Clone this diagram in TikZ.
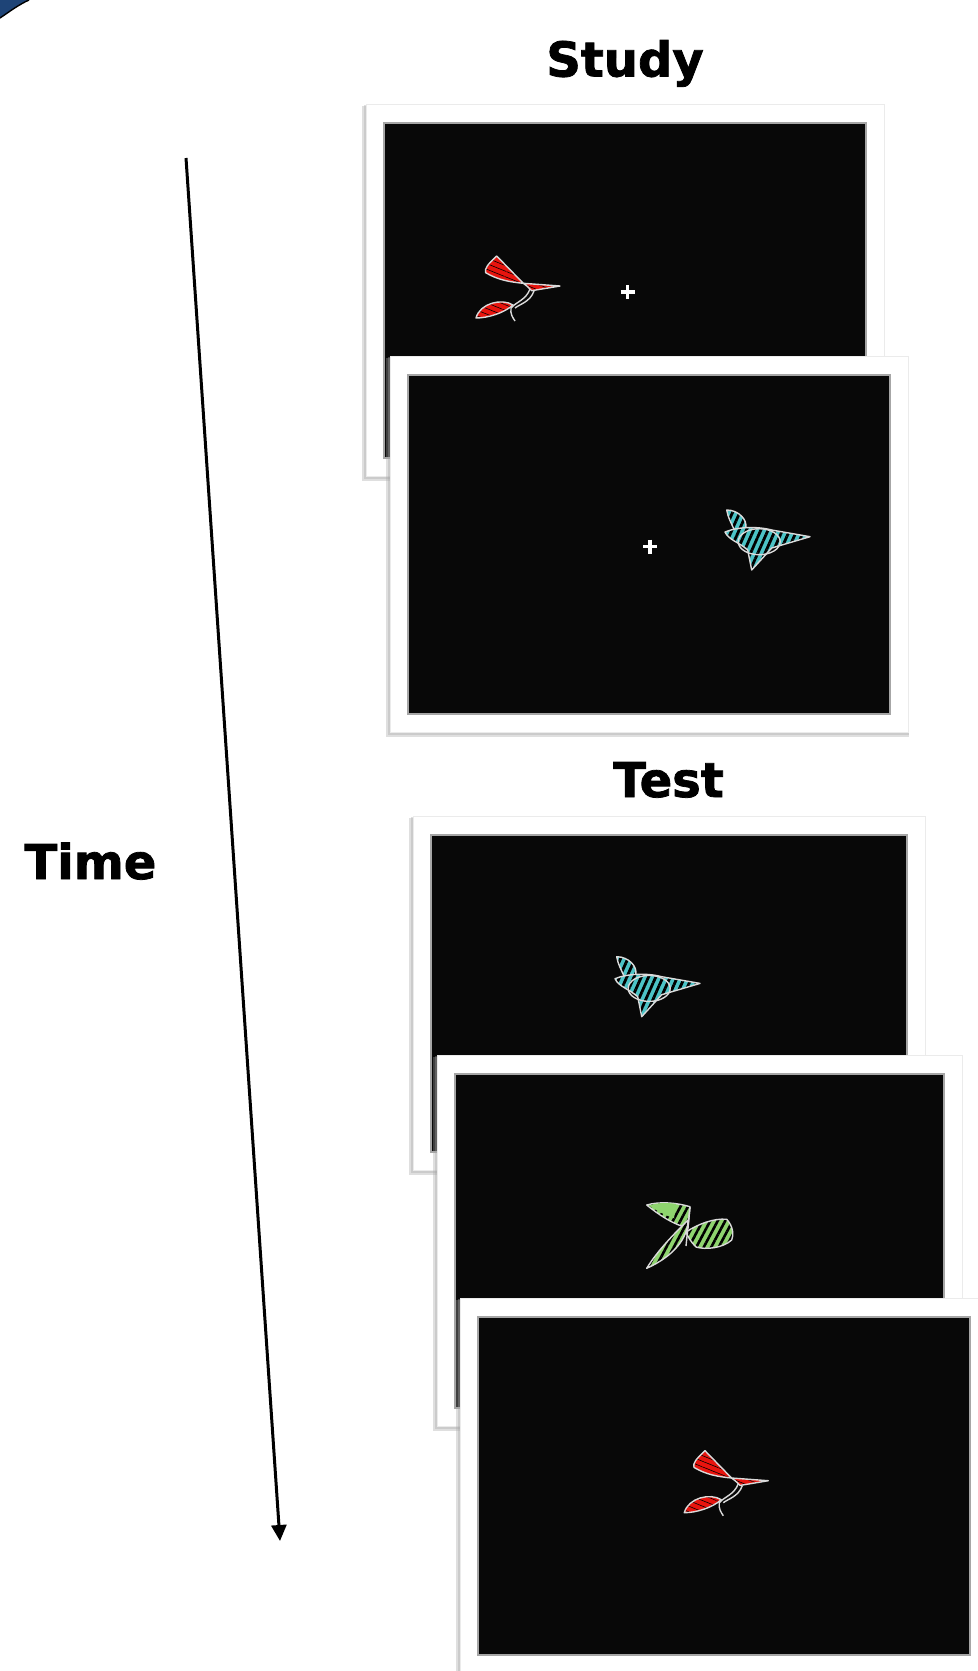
\documentclass[tikz,border=0pt]{standalone}
\usepackage{fontspec}
\setmainfont{DejaVu Sans}
\newfontfamily\heavyfont{DejaVu Sans Bold}[FakeBold=1.6]
\usetikzlibrary{patterns.meta,arrows.meta}

\definecolor{screen}{HTML}{080808}
\definecolor{stimred}{HTML}{E8140E}
\definecolor{stimcyan}{HTML}{4CC3C6}
\definecolor{stimgreen}{HTML}{8ED46E}
\definecolor{cornerblue}{HTML}{1E4477}
\definecolor{edgegray}{HTML}{DADADA}

% one screen: soft shadow, white mount, black display area
\newcommand\screenframe[4]{%
  \fill[black!35,opacity=.35] (#1-4,#2+2) rectangle (#3+1,#4+5);
  \fill[black!35,opacity=.35] (#1-2,#2+1) rectangle (#3+1,#4+3);
  \fill[white] (#1,#2) rectangle (#3,#4);
  \draw[black!8,line width=.5pt] (#1,#2) rectangle (#3,#4);
  \filldraw[fill=screen,draw=black!35,line width=.6pt] (#1+18,#2+19) rectangle (#3-18,#4-18);
}

\tikzset{
  title/.style={font=\heavyfont\fontsize{24pt}{28pt}\selectfont,inner sep=0pt,anchor=base},
  stimline/.style={draw=edgegray,line width=.7pt,line join=round},
  redfill/.style={preaction={fill=stimred},pattern={Lines[angle=-22,distance=2.6pt,line width=.3pt]},pattern color=black},
  cyanfill/.style={preaction={fill=stimcyan},pattern={Lines[angle=66,distance=3.3pt,line width=1.4pt]},pattern color=black},
  greenfill/.style={preaction={fill=stimgreen},pattern={Lines[angle=62,distance=3.3pt,line width=1.3pt]},pattern color=black},
  fixcross/.pic={\draw[white,line width=1.8pt] (-7,0) -- (7,0) (0,-7) -- (0,7);},
  redstim/.pic={
    % wing
    \path[redfill,stimline] (16.7,0) .. controls (8,8) and (4,13) .. (5.7,16.7)
      .. controls (18,24) and (30,26) .. (43.3,27.3) -- cycle;
    % tail
    \path[redfill,stimline] (43.3,27.3) -- (80,30) -- (51.7,34.7)
      .. controls (48,31) and (46,29) .. cycle;
    % neck and leg
    \draw[stimline] (50,33) .. controls (46,44) and (36,46) .. (31,52)
      .. controls (30,58) and (33,62) .. (35,65);
    \draw[stimline] (54,35) .. controls (50,46) and (40,48) .. (35,52);
    % leaf
    \path[redfill,stimline] (-4,62) .. controls (0,47) and (22,42) .. (33,49)
      .. controls (24,57) and (8,62) .. cycle;
  },
  cyanstim/.pic={
    % ear
    \path[cyanfill,stimline] (0,0) .. controls (12,0) and (21,10) .. (19,18) -- (9,23)
      .. controls (5,14) and (1,7) .. cycle;
    % body
    \path[cyanfill,stimline] (-1.7,22) .. controls (10,17) and (30,16) .. (45,20)
      -- (83.3,26.7) -- (45,38) -- (25,60) -- (21,40)
      .. controls (12,32) and (2,30) .. cycle;
    \draw[stimline] (32.5,31.7) ellipse [x radius=21,y radius=13];
  },
  greenstim/.pic={
    % left wing
    \path[greenfill,stimline] (16.7,25) .. controls (30,21) and (48,23) .. (60,26.7)
      -- (58,48) .. controls (42,44) and (28,34) .. cycle;
    \path[fill=stimgreen] (18.5,25.5) .. controls (30,22) and (40,23) .. (46,24)
      -- (44,38) .. controls (36,36) and (26,30) .. cycle;
    % right lobe
    \path[greenfill,stimline] (56,52) .. controls (68,44) and (84,38) .. (96.7,39.3)
      .. controls (103,46) and (104,55) .. (101.7,60)
      .. controls (93,68) and (76,70) .. (66,67)
      .. controls (61,62) and (58,57) .. cycle;
    % lower blade
    \path[greenfill,stimline] (16.7,88.3) .. controls (28,70) and (44,54) .. (58,40)
      .. controls (58,58) and (44,76) .. cycle;
    \draw[stimline] (60,27) -- (56,66);
  }
}

\begin{document}
\begin{tikzpicture}[x=0.5pt,y=-0.5pt]
  \useasboundingbox (0,0) rectangle (978,1671);
  \fill[white] (0,0) rectangle (978,1671);

  % corner of the page background
  \fill[cornerblue] (0,0) -- (0,18) .. controls (9,12) and (18,5) .. (29,0) -- cycle;
  \draw[black,line width=.7pt] (0,18) .. controls (9,12) and (18,5) .. (29,0);

  % titles
  \node[title] (study) at (625,76.5) {Study};
  \node[title] (test) at (668.5,797) {Test};
  \node[title] (time) at (90.5,879) {Time};

  % time axis
  \coordinate (tstart) at (186,158);
  \coordinate (tend) at (280,1541);
  \draw[line width=1.5pt,-{Triangle[length=8pt,width=7.5pt]}] (tstart) -- (tend);

  % study phase
  \screenframe{366}{104}{884}{476}
  \pic at (480,256) {redstim};
  \pic at (627.5,292) {fixcross};

  \screenframe{390}{356}{908}{732}
  \pic at (650,546.5) {fixcross};
  \pic at (726.7,510) {cyanstim};

  % test phase
  \screenframe{413}{816}{925}{1170}
  \pic at (616.7,956.7) {cyanstim};

  \screenframe{437}{1055}{962}{1426}
  \pic at (630,1180) {greenstim};

  \screenframe{460}{1298}{988}{1673}
  \pic at (688.3,1450.7) {redstim};
\end{tikzpicture}
\end{document}
